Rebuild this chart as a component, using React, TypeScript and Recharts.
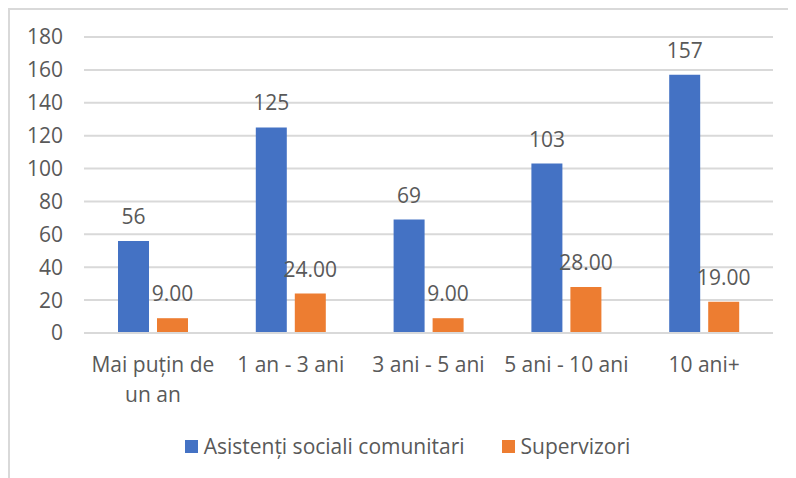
import { BarChart, Bar, XAxis, YAxis, CartesianGrid, Legend, LabelList } from "recharts";

const categories = ["Mai puțin de\nun an", "1 an - 3 ani", "3 ani - 5 ani", "5 ani - 10 ani", "10 ani+"];
const asistenti = [56, 125, 69, 103, 157];
const supervizori = [9, 24, 9, 28, 19];
const yTicks = [0, 20, 40, 60, 80, 100, 120, 140, 160, 180];

const seriesNames = ["Asistenți sociali comunitari", "Supervizori"];
const colors = ["#4472C4", "#ED7D31"];

const data = categories.map((c, i) => ({ cat: c, a: asistenti[i], s: supervizori[i] }));

const TEXT = "#595959";
const GRID = "#d9d9d9";
const FONT = '"Open Sans", sans-serif';
const FS = 21;

// two-line category labels
function CatTick({ x, y, payload }: any) {
  const lines = String(payload.value).split("\n");
  return (
    <text x={x} y={y} textAnchor="middle" fill={TEXT} fontSize={FS} fontFamily={FONT}>
      {lines.map((l, i) => (
        <tspan key={i} x={x} dy={i === 0 ? 39 : 30}>
          {l}
        </tspan>
      ))}
    </text>
  );
}

function LegendBox() {
  return (
    <div style={{ display: "flex", justifyContent: "center", height: 24, alignItems: "center", paddingLeft: 32, fontFamily: FONT, fontSize: FS, color: TEXT }}>
      {seriesNames.map((n, i) => (
        <div key={n} style={{ display: "flex", alignItems: "center", marginRight: i === 0 ? 37 : 0 }}>
          <span style={{ display: "inline-block", width: 13, height: 13, background: colors[i], marginRight: 6 }} />
          <span>{n}</span>
        </div>
      ))}
    </div>
  );
}

export default function App() {
  return (
    <div
      style={{
        width: 788,
        height: 470,
        borderTop: `2px solid ${GRID}`,
        borderLeft: `2px solid ${GRID}`,
        boxSizing: "border-box",
        background: "#fff",
        fontFamily: FONT,
      }}
    >
      <BarChart
        width={786}
        height={468}
        data={data}
        margin={{ top: 27, right: 23, left: 0, bottom: 20 }}
        barSize={31}
        barGap={8}
      >
        <CartesianGrid vertical={false} stroke={GRID} strokeWidth={2} />
        <XAxis
          dataKey="cat"
          height={101}
          axisLine={{ stroke: GRID, strokeWidth: 2 }}
          tickLine={false}
          tickSize={0}
          tickMargin={0}
          interval={0}
          tick={<CatTick />}
        />
        <YAxis
          width={74}
          domain={[0, 180]}
          ticks={yTicks}
          axisLine={false}
          tickLine={false}
          tickSize={0}
          tickMargin={21}
          tick={{ fill: TEXT, fontSize: FS, fontFamily: FONT }}
        />
        <Legend verticalAlign="bottom" content={<LegendBox />} />
        <Bar dataKey="a" name={seriesNames[0]} fill={colors[0]} isAnimationActive={false}>
          <LabelList dataKey="a" position="top" offset={17} fill={TEXT} fontSize={FS} fontFamily={FONT} />
        </Bar>
        <Bar dataKey="s" name={seriesNames[1]} fill={colors[1]} isAnimationActive={false}>
          <LabelList
            dataKey="s"
            position="top"
            offset={17}
            fill={TEXT}
            fontSize={FS}
            fontFamily={FONT}
            formatter={(v: any) => Number(v).toFixed(2)}
          />
        </Bar>
      </BarChart>
    </div>
  );
}
